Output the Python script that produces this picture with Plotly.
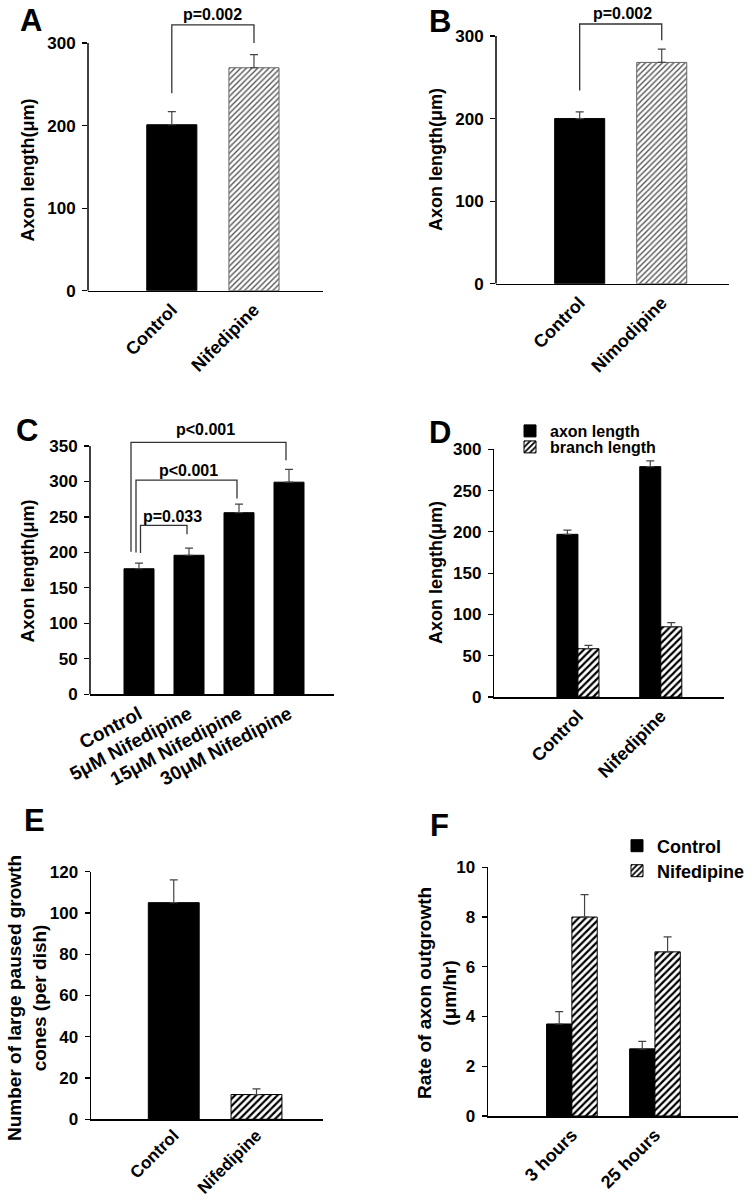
import plotly.graph_objects as go

W, H = 754, 1200
FONT = "Liberation Sans, Arial, Helvetica, sans-serif"

# ---------------- data ----------------
a_cats = ["Control", "Nifedipine"]
a_vals = [201, 270]
a_errs = [16, 16]

b_cats = ["Control", "Nimodipine"]
b_vals = [200, 268]
b_errs = [8, 16]

c_cats = ["Control", "5μM Nifedipine", "15μM Nifedipine", "30μM Nifedipine"]
c_vals = [177, 196, 256, 299]
c_errs = [8, 10, 12, 18]

d_cats = ["Control", "Nifedipine"]
d_axon = [197, 279]
d_axon_err = [5, 7]
d_branch = [58.5, 85]
d_branch_err = [4, 5]

e_cats = ["Control", "Nifedipine"]
e_vals = [105, 12]
e_errs = [11, 2.7]

f_cats = ["3 hours", "25 hours"]
f_control = [3.7, 2.7]
f_control_err = [0.5, 0.3]
f_nif = [8.0, 6.6]
f_nif_err = [0.9, 0.6]

# significance brackets: (x_left, x_right, y_bar, y_left_end, y_right_end, label, label_x, label_y)
a_brackets = [(0, 1, 322, 239, 300, "p=0.002", 0.49, 334)]
b_brackets = [(0, 1, 314.5, 234, 295, "p=0.002", 0.52, 327)]
c_brackets = [(-0.16, 2.94, 355, 201, 330, "p<0.001", 1.33, 373),
              (-0.06, 1.96, 302, 200, 276, "p<0.001", 0.98, 316),
              (0.03, 0.96, 238, 199, 225.5, "p=0.033", 0.66, 250)]

# ---------------- styling helpers ----------------
def fnt(size):
    return dict(family=FONT, size=size, color="black", weight="bold")

def xdom(p0, p1):
    return [p0 / W, p1 / W]

def ydom(ybot_px, ytop_px):
    return [1 - ybot_px / H, 1 - ytop_px / H]

def err(arr):
    return dict(type="data", array=arr, arrayminus=[0] * len(arr), symmetric=False,
                color="#444", thickness=1.2, width=4)

SOLID = dict(color="black", line=dict(color="black", width=1))
HATCH = dict(color="white", line=dict(color="black", width=1),
             pattern=dict(shape="/", fgcolor="black", bgcolor="white", size=5, solidity=0.45))
LIGHT_HATCH = dict(color="white", line=dict(color="#666", width=1),
                   pattern=dict(shape="/", fgcolor="#555", bgcolor="white", size=4, solidity=0.35))

fig = go.Figure()

def pair(cats, vals, errs, k, width, second_marker):
    fig.add_trace(go.Bar(x=cats[:1], y=vals[:1], width=width, xaxis="x" + k, yaxis="y" + k,
                         showlegend=False, marker=SOLID, error_y=err(errs[:1])))
    fig.add_trace(go.Bar(x=cats[1:], y=vals[1:], width=width, xaxis="x" + k, yaxis="y" + k,
                         showlegend=False, marker=second_marker, error_y=err(errs[1:])))

# Panel A, B
pair(a_cats, a_vals, a_errs, "", 0.61, LIGHT_HATCH)
pair(b_cats, b_vals, b_errs, "2", 0.61, LIGHT_HATCH)
# Panel C
fig.add_trace(go.Bar(x=c_cats, y=c_vals, width=0.6, xaxis="x3", yaxis="y3", showlegend=False,
                     marker=SOLID, error_y=err(c_errs)))
# Panel D
fig.add_trace(go.Bar(x=d_cats, y=d_axon, width=0.254, offset=-0.254, xaxis="x4", yaxis="y4",
                     name="axon length", legend="legend", marker=SOLID, error_y=err(d_axon_err)))
fig.add_trace(go.Bar(x=d_cats, y=d_branch, width=0.254, offset=0, xaxis="x4", yaxis="y4",
                     name="branch length", legend="legend3", marker=HATCH, error_y=err(d_branch_err)))
# Panel E
pair(e_cats, e_vals, e_errs, "5", 0.615, HATCH)
# Panel F
fig.add_trace(go.Bar(x=f_cats, y=f_control, width=0.305, offset=-0.305, xaxis="x6", yaxis="y6",
                     name="Control", legend="legend2", marker=SOLID, error_y=err(f_control_err)))
fig.add_trace(go.Bar(x=f_cats, y=f_nif, width=0.305, offset=0, xaxis="x6", yaxis="y6",
                     name="Nifedipine", legend="legend4", marker=HATCH, error_y=err(f_nif_err)))

# panel geometry (pixels)
panels = {
    "": dict(x=(88, 323), ybot=290.7, ppu=247.7 / 300, ymax=345, xr=[-1.02, 1.84], cats=a_cats,
             tv=[0, 100, 200, 300], ang=-45, tf=18, line=False),
    "2": dict(x=(496, 729), ybot=283.7, ppu=247.7 / 300, ymax=340, xr=[-1.02, 1.82], cats=b_cats,
              tv=[0, 100, 200, 300], ang=-45, tf=18, line=False),
    "3": dict(x=(90, 334), ybot=694.3, ppu=248.3 / 350, ymax=385, xr=[-0.98, 3.9], cats=c_cats,
              tv=[0, 50, 100, 150, 200, 250, 300, 350], ang=-28, tf=19, line=False),
    "4": dict(x=(494.3, 723.7), ybot=697, ppu=247.7 / 300, ymax=300, xr=[-1.01, 1.76], cats=d_cats,
              tv=[0, 50, 100, 150, 200, 250, 300], ang=-45, tf=18, line=True),
    "5": dict(x=(91, 322.7), ybot=1119.3, ppu=247.6 / 120, ymax=120, xr=[-1.0, 1.8], cats=e_cats,
              tv=[0, 20, 40, 60, 80, 100, 120], ang=-45, tf=17, line=True),
    "6": dict(x=(488, 738), ybot=1116, ppu=248.7 / 10, ymax=10, xr=[-1.01, 2.0], cats=f_cats,
              tv=[0, 2, 4, 6, 8, 10], ang=-45, tf=18, line=True),
}

layout_axes = {}
shapes = []
for k, p in panels.items():
    ytop = p["ybot"] - p["ymax"] * p["ppu"]
    layout_axes["xaxis" + k] = dict(domain=xdom(*p["x"]), range=p["xr"], anchor="y" + k,
                                    categoryorder="array", categoryarray=p["cats"],
                                    showline=True, linecolor="black", linewidth=1.5, ticks="",
                                    tickangle=p["ang"], tickfont=fnt(p["tf"]),
                                    ticklabelstandoff=(-2 if k == "5" else 0),
                                    showgrid=False, zeroline=False, fixedrange=True, automargin=False)
    layout_axes["yaxis" + k] = dict(domain=ydom(p["ybot"], ytop), range=[0, p["ymax"]], anchor="x" + k,
                                    showline=p["line"], linecolor="black", linewidth=1.5,
                                    ticks="outside", ticklen=5, tickwidth=1.2, tickcolor="black",
                                    tickvals=p["tv"], tickfont=fnt(17), ticklabelstandoff=3,
                                    showgrid=False, zeroline=False, fixedrange=True, automargin=False)
    if not p["line"]:
        shapes.append(dict(type="line", xref="x" + k + " domain", yref="y" + k, x0=0, x1=0,
                           y0=0, y1=p["tv"][-1], line=dict(color="black", width=1.5)))

annotations = []
for k, brs in (("", a_brackets), ("2", b_brackets), ("3", c_brackets)):
    for (xl, xr, yb, yl, yr, lab, lx, ly) in brs:
        shapes.append(dict(type="path", xref="x" + k, yref="y" + k,
                           path=f"M {xl},{yl} L {xl},{yb} L {xr},{yb} L {xr},{yr}",
                           line=dict(color="#333", width=1.3)))
        annotations.append(dict(text=lab, xref="x" + k, yref="y" + k, x=lx, y=ly,
                                showarrow=False, font=fnt(16), xanchor="center", yanchor="middle"))

# panel letters
for lab, px, py in (("A", 31, 21), ("B", 440, 22), ("C", 27, 430),
                    ("D", 440, 432), ("E", 34, 820), ("F", 439, 825)):
    annotations.append(dict(text=lab, xref="paper", yref="paper", x=px / W, y=1 - py / H,
                            showarrow=False, font=fnt(31), xanchor="center", yanchor="middle"))

# y-axis titles
for lab, px, py, sz in (("Axon length(μm)", 27.5, 170, 18),
                        ("Axon length(μm)", 436, 160, 18),
                        ("Axon length(μm)", 27.5, 571, 18),
                        ("Axon length(μm)", 436, 573, 18),
                        ("Number of large paused growth<br>cones (per dish)", 27, 998, 19),
                        ("Rate of axon outgrowth<br>(μm/hr)", 437, 993, 19)):
    annotations.append(dict(text=lab, xref="paper", yref="paper", x=px / W, y=1 - py / H,
                            textangle=-90, showarrow=False, font=fnt(sz),
                            xanchor="center", yanchor="middle"))

def leg(px, py, size):
    return dict(x=px / W, y=1 - py / H, xanchor="left", yanchor="middle",
                bgcolor="rgba(0,0,0,0)", font=fnt(size), itemwidth=30)

fig.update_layout(
    template="none",
    width=W, height=H, margin=dict(l=0, r=0, t=0, b=0, pad=0, autoexpand=False),
    paper_bgcolor="white", plot_bgcolor="white",
    font=fnt(16), barmode="overlay",
    shapes=shapes, annotations=annotations,
    legend=leg(510, 431, 16),
    legend3=leg(510, 447, 16),
    legend2=leg(617, 846, 18),
    legend4=leg(617, 871, 18),
    **layout_axes,
)

fig.write_html("out.html", config={"displayModeBar": False, "staticPlot": True},
               post_script="document.body.style.margin='0';")
